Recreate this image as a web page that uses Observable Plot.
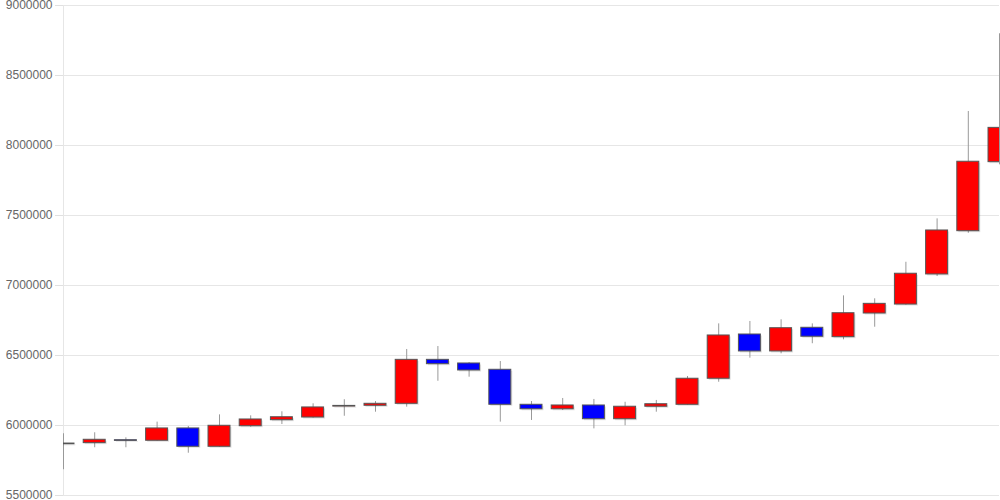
<!DOCTYPE html>
<html>
<head>
<meta charset="utf-8">
<script src="https://cdn.jsdelivr.net/npm/d3@7"></script>
<script src="https://cdn.jsdelivr.net/npm/@observablehq/plot@0.6"></script>
<style>
  html, body { margin: 0; padding: 0; background: #fff; }
  #chart svg { display: block; }
</style>
</head>
<body>
<div id="chart"></div>
<script>
// Candlestick values (31 periods)
const openVals  = [5866000, 5874000, 5895000, 5891000, 5979000, 5848000, 5995000, 6038000, 6057000, 6135000,
                   6141000, 6155000, 6469000, 6443000, 6398000, 6148000, 6116000, 6143000, 6045000, 6134000,
                   6148000, 6334000, 6650000, 6529000, 6698000, 6631000, 6800000, 6864000, 7079000, 7388000,
                   7881000];
const closeVals = [5871000, 5898000, 5890000, 5979000, 5848000, 5998000, 6043000, 6059000, 6129000, 6140000,
                   6155000, 6469000, 6438000, 6393000, 6148000, 6116000, 6143000, 6045000, 6134000, 6152000,
                   6334000, 6643000, 6529000, 6695000, 6634000, 6802000, 6869000, 7084000, 7393000, 7884000,
                   8126000];
const highVals  = [5941000, 5948000, 5912000, 6024000, 5993000, 6076000, 6069000, 6098000, 6155000, 6184000,
                   6171000, 6543000, 6564000, 6450000, 6457000, 6171000, 6193000, 6186000, 6166000, 6179000,
                   6350000, 6726000, 6743000, 6755000, 6726000, 6926000, 6905000, 7166000, 7476000, 8243000,
                   8798000];
const lowVals   = [5684000, 5841000, 5841000, 5889000, 5802000, 5845000, 5988000, 6007000, 6053000, 6066000,
                   6095000, 6131000, 6316000, 6345000, 6024000, 6036000, 6107000, 5976000, 5998000, 6095000,
                   6146000, 6309000, 6481000, 6512000, 6584000, 6612000, 6702000, 6860000, 7064000, 7373000,
                   7862000];
const yTicks = [5500000, 6000000, 6500000, 7000000, 7500000, 8000000, 8500000, 9000000];
const upColor = "#ff0000";
const downColor = "#0000ff";

const data = openVals.map((o, i) => ({
  i, open: o, close: closeVals[i], high: highVals[i], low: lowVals[i]
}));
const hw = 0.352; // half body width in index units

const chart = Plot.plot({
  width: 1000,
  height: 500,
  marginLeft: 63,
  marginRight: 1,
  marginTop: 5,
  marginBottom: 5,
  style: { fontFamily: "'Liberation Sans', Arial, sans-serif", fontSize: "12px", background: "#fff" },
  x: { domain: [0, data.length - 1], axis: null },
  y: { domain: [5500000, 9000000], axis: null },
  marks: [
    Plot.gridY(yTicks, { stroke: "#e6e6e6", strokeOpacity: 1 }),
    Plot.axisY(yTicks, { tickSize: 8, tickPadding: 3, stroke: "#e0e0e0", fill: "#666", tickFormat: d3.format("d"), fontSize: 12 }),
    Plot.ruleX([0], { stroke: "#e6e6e6" }),
    Plot.ruleX(data, { x: "i", y1: "low", y2: "high", stroke: "#999", strokeWidth: 1 }),
    Plot.rect(data, {
      x1: d => d.i - hw, x2: d => d.i + hw, y1: "open", y2: "close",
      fill: "#000", fillOpacity: 0.12, dx: 1.5, dy: 1.5, clip: true
    }),
    Plot.rect(data, {
      x1: d => d.i - hw, x2: d => d.i + hw, y1: "open", y2: "close",
      fill: d => d.close >= d.open ? upColor : downColor,
      stroke: "#555", strokeWidth: 1, clip: true
    })
  ]
});
document.getElementById("chart").appendChild(chart);
</script>
</body>
</html>
